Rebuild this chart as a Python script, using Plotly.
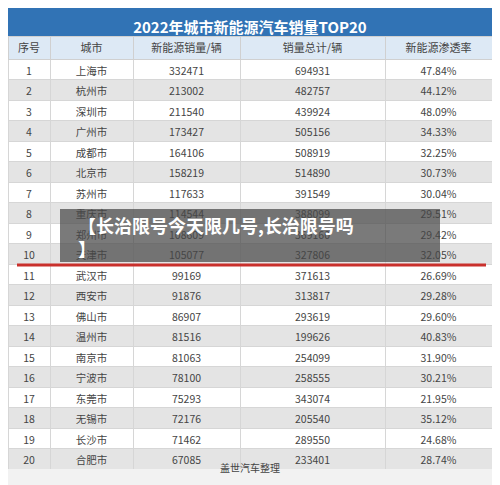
import plotly.graph_objects as go

# data
rank = list(range(1, 21))
cities = ["上海市", "杭州市", "深圳市", "广州市", "成都市", "北京市", "苏州市", "重庆市", "郑州市", "天津市",
          "武汉市", "西安市", "佛山市", "温州市", "南京市", "宁波市", "东莞市", "无锡市", "长沙市", "合肥市"]
nev_sales = [332471, 213002, 211540, 173427, 164106, 158219, 117633, 114544, 108609, 105077,
             99169, 91876, 86907, 81516, 81063, 78100, 75293, 72176, 71462, 67085]
total_sales = [694931, 482757, 439924, 505156, 508919, 514890, 391549, 388099, 369160, 327806,
               371613, 313817, 293619, 199626, 254099, 258555, 343074, 205540, 289550, 233401]
penetration = ["47.84%", "44.12%", "48.09%", "34.33%", "32.25%", "30.73%", "30.04%", "29.51%", "29.42%", "32.05%",
               "26.69%", "29.28%", "29.60%", "40.83%", "31.90%", "30.21%", "21.95%", "35.12%", "24.68%", "28.74%"]
headers = ["序号", "城市", "新能源销量/辆", "销量总计/辆", "新能源渗透率"]
title = "2022年城市新能源汽车销量TOP20"

# the page shows the figure 8px in from the top-left corner
OFF = 8
W, H = 500 - 2 * OFF, 485 - OFF
fill = [["#ffffff" if i % 2 == 0 else "#e4e4e4" for i in range(20)]]
font = "Noto Sans CJK SC"


def py(y):
    # reference pixel row -> paper coordinate
    return 1 - (y - OFF) / H


def px(x):
    return (x - OFF) / W


fig = go.Figure()
fig.add_trace(go.Table(
    columnwidth=[42, 83, 107, 145, 107],
    domain=dict(x=[0, 1], y=[0, py(36)]),
    header=dict(values=headers, fill_color="#dde9f5", line_color="#d0d0d0", height=23,
                align="center", font=dict(family=font, size=11, color="#444")),
    cells=dict(values=[rank, cities, nev_sales, total_sales, penetration],
               fill_color=fill * 5, line_color="#d6d6d6", height=20.5,
               align="center", font=dict(family=font, size=10.5, color="#444")),
))
fig.add_trace(go.Table(
    domain=dict(x=[0, 1], y=[py(36), 1]),
    header=dict(values=["<b>" + title + "</b>"], fill_color="#3173b5", line_color="#3173b5", height=28,
                align="center", font=dict(family=font, size=15, color="white")),
    cells=dict(values=[[]], height=1, fill_color="#3173b5", line_color="#3173b5"),
))

shapes = [
    dict(type="rect", xref="paper", yref="paper", x0=0, x1=1, y0=0, y1=py(469),
         fillcolor="#f2f2f2", line_width=0),
    dict(type="line", xref="paper", yref="paper", x0=px(17), x1=px(486), y0=py(265), y1=py(265),
         line=dict(color="#c9302c", width=3)),
    dict(type="rect", xref="paper", yref="paper", x0=px(60), x1=px(440), y0=py(262), y1=py(209),
         fillcolor="rgba(70,70,70,0.72)", line_width=0),
]
annotations = [
    dict(text="盖世汽车整理", x=px(250), y=py(477), xref="paper", yref="paper",
         showarrow=False, font=dict(family=font, size=10, color="#444")),
    dict(text="<b>【长治限号今天限几号,长治限号吗<br>】</b>", x=px(76), y=py(236), xref="paper", yref="paper",
         xanchor="left", showarrow=False, align="left", font=dict(family=font, size=18, color="white")),
]

fig.update_layout(width=W, height=H, margin=dict(l=0, r=0, t=0, b=0),
                  paper_bgcolor="#3173b5", shapes=shapes, annotations=annotations)
fig.write_html("out.html")
